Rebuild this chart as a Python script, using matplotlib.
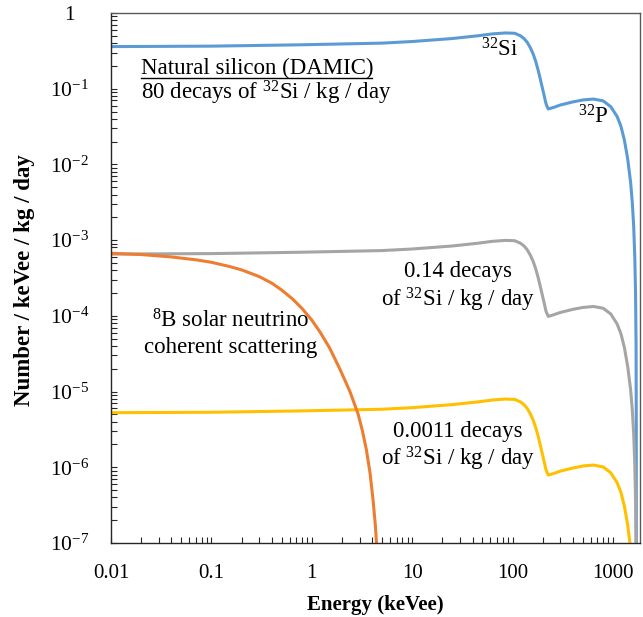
import matplotlib
matplotlib.use("Agg")
import matplotlib.pyplot as plt
from matplotlib.ticker import LogLocator, NullFormatter, FixedLocator, FixedFormatter

plt.rcParams['font.family'] = ['Liberation Serif', 'DejaVu Serif']
plt.rcParams['mathtext.fontset'] = 'custom'
plt.rcParams['mathtext.rm'] = 'Liberation Serif'
plt.rcParams['mathtext.it'] = 'Liberation Serif:italic'
plt.rcParams['mathtext.bf'] = 'Liberation Serif:bold'

# energies (keVee) for the 32Si -> 32P beta spectra
energy_beta = [0.01, 0.1, 0.76, 5, 10, 25, 45, 63, 85, 105, 120, 130, 140, 150, 160, 170, 180,
               190, 200, 207, 215, 221, 227, 260, 300, 400, 500, 640, 800, 950, 1100, 1200,
               1300, 1400, 1500, 1560, 1610, 1650, 1680, 1700, 1708, 1711]
# natural silicon, 80 decays of 32Si / kg / day
rate_natural = [0.36, 0.365, 0.38, 0.40, 0.42, 0.46, 0.50, 0.53, 0.545, 0.54, 0.50, 0.46, 0.41,
                0.35, 0.29, 0.23, 0.175, 0.13, 0.097, 0.08, 0.064, 0.058, 0.054, 0.057, 0.061,
                0.067, 0.071, 0.073, 0.069, 0.058, 0.043, 0.032, 0.021, 0.012, 0.0058, 0.0031,
                0.0015, 0.0006, 0.0002, 0.00004, 0.000003, 1e-12]
# 0.14 decays of 32Si / kg / day
rate_014 = [6.55e-4, 6.64e-4, 6.92e-4, 7.28e-4, 7.64e-4, 8.37e-4, 9.10e-4, 9.65e-4, 9.92e-4,
            9.83e-4, 9.10e-4, 8.37e-4, 7.46e-4, 6.37e-4, 5.28e-4, 4.19e-4, 3.19e-4, 2.37e-4,
            1.77e-4, 1.46e-4, 1.16e-4, 1.06e-4, 9.83e-5, 1.04e-4, 1.11e-4, 1.22e-4, 1.29e-4,
            1.33e-4, 1.26e-4, 1.06e-4, 7.83e-5, 5.82e-5, 3.82e-5, 2.18e-5, 1.06e-5, 5.64e-6,
            2.73e-6, 1.09e-6, 3.64e-7, 7.3e-8, 5.5e-9, 1e-14]
# 0.0011 decays of 32Si / kg / day
rate_00011 = [5.26e-6, 5.33e-6, 5.55e-6, 5.84e-6, 6.13e-6, 6.72e-6, 7.30e-6, 7.74e-6, 7.96e-6,
              7.88e-6, 7.30e-6, 6.72e-6, 5.99e-6, 5.11e-6, 4.23e-6, 3.36e-6, 2.56e-6, 1.90e-6,
              1.42e-6, 1.17e-6, 9.34e-7, 8.47e-7, 7.88e-7, 8.32e-7, 8.91e-7, 9.78e-7, 1.04e-6,
              1.07e-6, 1.01e-6, 8.47e-7, 6.28e-7, 4.67e-7, 3.07e-7, 1.75e-7, 8.47e-8, 4.5e-8,
              2.2e-8, 8.8e-9, 2.9e-9, 5.8e-10, 4.4e-11, 1e-16]

# 8B solar neutrino coherent scattering
energy_8b = [0.01, 0.02, 0.04, 0.07, 0.1, 0.15, 0.2, 0.3, 0.4, 0.5, 0.65, 0.8, 1.0, 1.2, 1.5,
             1.9, 2.4, 2.9, 3.2, 3.5, 3.8, 4.07, 4.3, 4.46, 4.6]
rate_8b = [6.7e-4, 6.45e-4, 6.0e-4, 5.5e-4, 5.1e-4, 4.5e-4, 4.05e-4, 3.3e-4, 2.7e-4, 2.2e-4,
           1.65e-4, 1.25e-4, 8.8e-5, 6.2e-5, 3.8e-5, 2.0e-5, 1.0e-5, 5.0e-6, 3.0e-6, 1.7e-6,
           8.5e-7, 3.8e-7, 1.7e-7, 8e-8, 2e-8]

y_ticks = [1, 1e-1, 1e-2, 1e-3, 1e-4, 1e-5, 1e-6, 1e-7]
y_labels = ['1'] + [r'$\mathregular{10^{-%d}}$' % n for n in range(1, 8)]
x_ticks = [0.01, 0.1, 1, 10, 100, 1000]
x_labels = ['0.01', '0.1', '1', '10', '100', '1000']

fig = plt.figure(figsize=(6.43, 6.17), dpi=100)
ax = fig.add_axes([111 / 643, 74 / 617, 529 / 643, 530 / 617])

lw = 2.2
ax.plot(energy_beta, rate_natural, color='#5B9BD5', lw=lw)
ax.plot(energy_beta, rate_014, color='#A5A5A5', lw=lw)
ax.plot(energy_beta, rate_00011, color='#FFC000', lw=lw)
ax.plot(energy_8b, rate_8b, color='#ED7D31', lw=lw)

ax.set_xscale('log')
ax.set_yscale('log')
ax.set_xlim(0.01, 1860)
ax.set_ylim(1e-7, 1)

ax.xaxis.set_major_locator(FixedLocator(x_ticks))
ax.xaxis.set_major_formatter(FixedFormatter(x_labels))
ax.xaxis.set_minor_locator(LogLocator(base=10, subs=range(2, 10), numticks=20))
ax.xaxis.set_minor_formatter(NullFormatter())
ax.yaxis.set_major_locator(FixedLocator(y_ticks))
ax.yaxis.set_major_formatter(FixedFormatter(y_labels))
ax.yaxis.set_minor_locator(LogLocator(base=10, subs=range(2, 10), numticks=20))
ax.yaxis.set_minor_formatter(NullFormatter())

ax.tick_params(which='both', direction='in', length=4, width=0.8, color='#262626')
ax.tick_params(axis='x', which='major', labelsize=15, pad=15)
ax.tick_params(axis='y', which='major', labelsize=15.5, pad=30)
for lab in ax.get_yticklabels():
    lab.set_horizontalalignment('center')

for side in ['left', 'bottom']:
    ax.spines[side].set_color('#262626')
for side in ['top', 'right']:
    ax.spines[side].set_color('#595959')
for side in ax.spines:
    ax.spines[side].set_linewidth(1.0)

fig.text(375 / 643, 1 - 605 / 617, 'Energy (keVee)', fontsize=15, fontweight='bold',
         ha='center', va='center')
fig.text(25 / 643, 1 - 280 / 617, 'Number / keVee / kg / day', fontsize=16.5,
         fontweight='bold', rotation=90, ha='center', va='center')

fs = 16.5
def px(x, y):
    return (x - 111) / 529, (543 - y) / 530

ax.text(*px(141, 68), 'Natural silicon (DAMIC)', transform=ax.transAxes, fontsize=fs,
        ha='left', va='center')
ax.plot([px(141, 0)[0], px(372, 0)[0]], [px(0, 78)[1]] * 2, transform=ax.transAxes,
        color='black', lw=1.0)
ax.text(*px(141, 93), r'80 decays of $^{32}$Si / kg / day', transform=ax.transAxes,
        fontsize=fs, ha='left', va='center')
ax.text(*px(500, 50), r'$^{32}$Si', transform=ax.transAxes, fontsize=fs,
        ha='center', va='center')
ax.text(*px(593, 117), r'$^{32}$P', transform=ax.transAxes, fontsize=fs,
        ha='center', va='center')
ax.text(*px(231, 321), r'$^{8}$B solar neutrino', transform=ax.transAxes, fontsize=fs,
        ha='center', va='center')
ax.text(*px(231, 347), 'coherent scattering', transform=ax.transAxes, fontsize=fs,
        ha='center', va='center')
ax.text(*px(458, 271), '0.14 decays', transform=ax.transAxes, fontsize=fs,
        ha='center', va='center')
ax.text(*px(458, 300), r'of $^{32}$Si / kg / day', transform=ax.transAxes, fontsize=fs,
        ha='center', va='center')
ax.text(*px(458, 431), '0.0011 decays', transform=ax.transAxes, fontsize=fs,
        ha='center', va='center')
ax.text(*px(458, 459), r'of $^{32}$Si / kg / day', transform=ax.transAxes, fontsize=fs,
        ha='center', va='center')

fig.savefig('out.png', dpi=100)
